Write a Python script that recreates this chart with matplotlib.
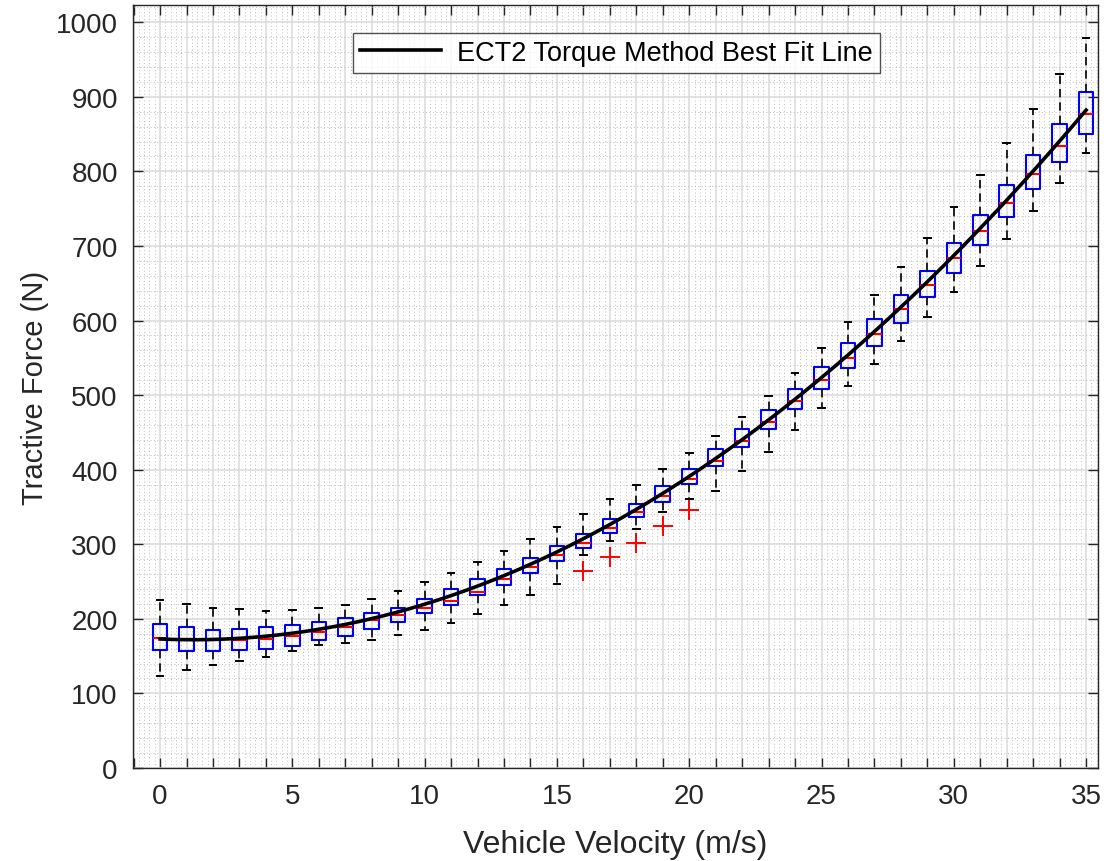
import numpy as np
import matplotlib
matplotlib.use("Agg")
import matplotlib.pyplot as plt
from matplotlib.ticker import MultipleLocator, FuncFormatter

plt.rcParams["font.family"] = ["Liberation Sans", "DejaVu Sans"]

# velocity bins (m/s)
velocity = list(range(0, 36))

# box statistics (N)
q3 = [193, 189, 185, 186, 189, 192, 196, 201, 208, 215, 227, 240, 253, 267, 282, 298, 314, 334,
      354, 378, 401, 428, 454, 480, 508, 537, 570, 602, 634, 667, 704, 741, 782, 822, 863, 907]
median = [174, 173, 171, 171, 173, 177, 183, 189, 198, 205, 214, 224, 236, 253, 269, 285, 302, 322,
          343, 365, 387, 412, 438, 464, 492, 520, 550, 582, 615, 648, 684, 720, 758, 796, 834, 877]
q1 = [158, 157, 157, 158, 160, 164, 171, 177, 186, 196, 208, 219, 232, 246, 261, 277, 295, 315,
      336, 357, 381, 405, 430, 454, 481, 508, 536, 566, 596, 631, 664, 701, 739, 777, 813, 850]
whisker_hi = [225, 220, 215, 213, 211, 212, 215, 219, 227, 237, 249, 262, 276, 291, 307, 323, 340, 361,
              379, 401, 423, 445, 470, 499, 530, 563, 598, 634, 672, 710, 752, 795, 838, 883, 931, 979]
whisker_lo = [124, 131, 138, 144, 149, 157, 165, 168, 172, 178, 185, 195, 206, 218, 232, 247, 285, 304,
              321, 343, 361, 371, 398, 424, 453, 483, 512, 542, 572, 605, 638, 673, 709, 747, 785, 825]
# outliers per velocity bin
outliers = {16: [264], 17: [283], 18: [302], 19: [325], 20: [346]}

# quadratic best fit line coefficients (c2, c1, c0)
fit_coeffs = [0.624, -1.58, 173]

stats = []
for i, v in enumerate(velocity):
    stats.append({
        "med": median[i], "q1": q1[i], "q3": q3[i],
        "whislo": whisker_lo[i], "whishi": whisker_hi[i],
        "fliers": outliers.get(v, []),
    })

fig = plt.figure(figsize=(11.06, 8.62), dpi=100)
ax = fig.add_axes([0.1203, 0.1079, 0.8725, 0.8851])

ax.bxp(stats, positions=velocity, widths=0.55, manage_ticks=False,
       boxprops=dict(color="#0000ff", linewidth=1.5),
       medianprops=dict(color="#ff0000", linewidth=1.5),
       whiskerprops=dict(color="black", linewidth=1.2, linestyle=(0, (5, 3))),
       capprops=dict(color="black", linewidth=1.4),
       capwidths=0.25,
       flierprops=dict(marker="+", markeredgecolor="#ff0000", markersize=14,
                       markeredgewidth=1.4, linestyle="none"))

xs = np.linspace(velocity[0], velocity[-1], 300)
ax.plot(xs, np.polyval(fit_coeffs, xs), color="black", linewidth=2.6,
        label="ECT2 Torque Method Best Fit Line", zorder=5)

ax.set_xlim(-1.02, 35.45)
ax.set_ylim(0, 1023)

ax.xaxis.set_major_locator(MultipleLocator(1))
ax.xaxis.set_minor_locator(MultipleLocator(0.2))
ax.xaxis.set_major_formatter(FuncFormatter(lambda v, p: f"{int(round(v))}" if round(v) % 5 == 0 else ""))
ax.yaxis.set_major_locator(MultipleLocator(100))
ax.yaxis.set_minor_locator(MultipleLocator(20))

ax.grid(which="major", color="#dadada", linewidth=1.1, linestyle="-")
ax.grid(which="minor", color="#bdbdbd", linewidth=0.7, linestyle=(0, (1, 2.5)))
ax.set_axisbelow(True)

ax.tick_params(which="major", direction="in", length=7.5, width=1.0, top=True, right=True,
               labelsize=20, colors="#262626", pad=11)
ax.tick_params(which="minor", length=0, top=True, right=True)
for s in ax.spines.values():
    s.set_color("#262626")
    s.set_linewidth(1.0)

ax.set_xlabel("Vehicle Velocity (m/s)", fontsize=23, color="#262626", labelpad=14)
ax.set_ylabel("Tractive Force (N)", fontsize=21, color="#262626", labelpad=5)

leg = ax.legend(loc="upper center", bbox_to_anchor=(0.501, 0.981), fontsize=19.5, frameon=True,
                fancybox=False, edgecolor="#262626", handlelength=3.0, borderpad=0.25,
                handletextpad=0.6)
leg.get_frame().set_linewidth(1.0)

fig.savefig("out.png", dpi=100)
